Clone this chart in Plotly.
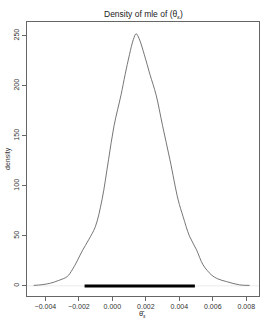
import plotly.graph_objects as go

# density curve points (x in raw units, y density)
dens_x = [-0.0047, -0.0042, -0.0037, -0.0032, -0.0027, -0.0024, -0.0021, -0.0018,
          -0.00142, -0.00102, -0.00062, -0.00023, 0.0001, 0.00052, 0.00076, 0.00102,
          0.00125, 0.00142, 0.0016, 0.00191, 0.00225, 0.00261, 0.0030, 0.00344,
          0.00393, 0.00423, 0.0046, 0.00503, 0.00542, 0.00592, 0.0063, 0.00682,
          0.0076, 0.0082]
dens_y = [0.5, 1.2, 2.7, 5.5, 9.3, 16, 25, 35,
          46, 59, 86, 126, 160, 191, 211, 231,
          246, 252, 247, 231, 211, 191, 160, 126,
          86, 69, 50, 36, 21, 11, 7, 4.3,
          1, 0.5]

# interval segment
ci_x = [-0.00166, 0.00493]
ci_y = [0, 0]

x_ticks = [-0.004, -0.002, 0.0, 0.002, 0.004, 0.006, 0.008]
y_ticks = [0, 50, 100, 150, 200, 250]

W, H = 273, 327
ML, MR, MT, MB = 27, 14, 22, 31
PW, PH = W - ML - MR, H - MT - MB


def px_x(px):
    return (px - ML) / PW


def px_y(py):
    return (H - MB - py) / PH


fig = go.Figure()
fig.add_trace(go.Scatter(x=[-0.0052, 0.0088], y=[0, 0], mode="lines",
                         line=dict(color="#dddddd", width=0.6), hoverinfo="skip",
                         showlegend=False))
fig.add_trace(go.Scatter(x=dens_x, y=dens_y, mode="lines", line_shape="spline",
                         line=dict(color="#666666", width=0.9), showlegend=False))
fig.add_trace(go.Scatter(x=ci_x, y=ci_y, mode="lines",
                         line=dict(color="black", width=3), showlegend=False))

font = "Liberation Sans, Arial, sans-serif"
fig.update_layout(
    width=W, height=H,
    margin=dict(l=ML, r=MR, t=MT, b=MB, pad=0),
    paper_bgcolor="white", plot_bgcolor="white",
    font=dict(family=font, size=7, color="#333333"),
    showlegend=False,
    hovermode=False,
    xaxis=dict(range=[-0.0051, 0.00876], tickvals=x_ticks, tickformat=".3f",
               automargin=False,
               showgrid=False, zeroline=False, showline=True, mirror=True,
               linecolor="#666666", linewidth=1, ticks="outside", ticklen=4,
               tickcolor="#666666", tickfont=dict(size=7, color="#333333")),
    yaxis=dict(range=[-10.1, 263.7], tickvals=y_ticks, tickangle=-90,
               automargin=False,
               showgrid=False, zeroline=False, showline=True, mirror=True,
               linecolor="#666666", linewidth=1, ticks="outside", ticklen=4,
               tickcolor="#666666", tickfont=dict(size=7, color="#333333")),
    annotations=[
        dict(text="Density of mle of (θ<sub>ε</sub>)", x=px_x(143), xref="paper",
             y=px_y(14), yref="paper", yanchor="middle", xanchor="center",
             showarrow=False, font=dict(size=8.5, color="#222222", family=font)),
        dict(text="density", textangle=-90, x=px_x(8), xref="paper", y=0.5,
             yref="paper", xanchor="center", yanchor="middle",
             showarrow=False, font=dict(size=7, color="#333333", family=font)),
        dict(text="θ\u0302<sub>ε</sub>", x=px_x(142), xref="paper", y=px_y(314),
             yref="paper", xanchor="center", yanchor="middle",
             showarrow=False, font=dict(size=7.5, color="#333333", family=font)),
    ],
)

fig.write_html("out.html",
               config={"displayModeBar": False, "staticPlot": True},
               post_script="document.body.style.margin='0';document.body.style.overflow='hidden';")
